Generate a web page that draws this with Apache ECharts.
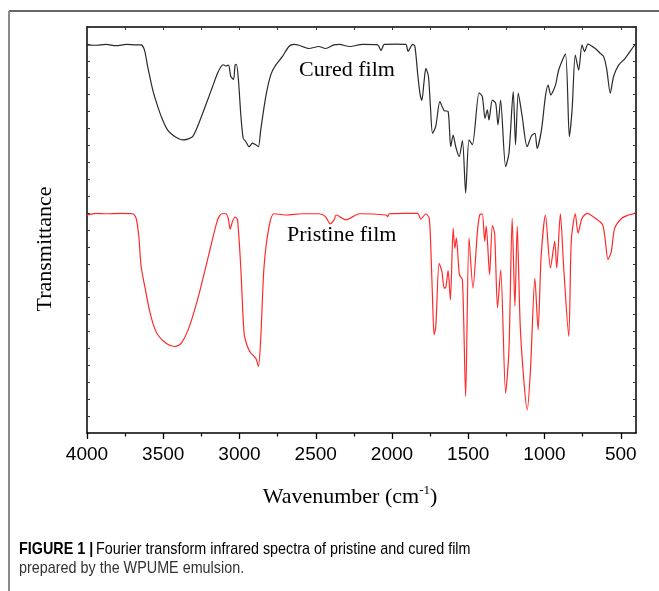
<!DOCTYPE html>
<html>
<head>
<meta charset="utf-8">
<script src="https://cdn.jsdelivr.net/npm/echarts@6/dist/echarts.min.js"></script>
<style>
  html, body { margin: 0; padding: 0; background: #fff; }
  #chart { width: 659px; height: 591px; }
</style>
</head>
<body>
<div id="chart"></div>
<script>
// ---- data (wavenumber in cm-1, transmittance in arbitrary units 0..100) ----
const curedWavenumber = [4000, 3939, 3874, 3809, 3743, 3678, 3645, 3623, 3602, 3569, 3536, 3504, 3471, 3438, 3405, 3373, 3340, 3307, 3275, 3242, 3209, 3177, 3144, 3122, 3107, 3090, 3072, 3057, 3039, 3029, 3020, 3007, 2992, 2976, 2959, 2937, 2915, 2893, 2876, 2861, 2828, 2795, 2763, 2719, 2676, 2643, 2610, 2545, 2480, 2436, 2381, 2344, 2279, 2192, 2094, 2072, 2050, 1974, 1909, 1895, 1865, 1850, 1832, 1817, 1804, 1791, 1778, 1761, 1748, 1734, 1713, 1686, 1658, 1632, 1615, 1599, 1582, 1560, 1538, 1517, 1495, 1473, 1429, 1408, 1390, 1375, 1364, 1342, 1320, 1305, 1288, 1255, 1233, 1205, 1190, 1172, 1146, 1114, 1085, 1063, 1048, 1020, 994, 976, 959, 928, 907, 863, 837, 819, 798, 776, 754, 737, 715, 667, 634, 612, 591, 569, 547, 514, 471, 416, 402];
const curedT = [95.6, 95.5, 95.7, 95.4, 95.7, 95.6, 95.6, 94.3, 90.2, 84.5, 80.4, 77.1, 74.6, 73.4, 72.6, 72.2, 72.4, 73.0, 75.5, 78.7, 82.0, 85.3, 88.6, 90.2, 90.7, 90.4, 90.6, 87.8, 87.1, 90.6, 90.8, 87.0, 78.7, 72.6, 71.8, 70.5, 71.4, 71.0, 70.5, 74.6, 82.8, 88.2, 90.6, 92.7, 95.2, 95.7, 95.5, 94.7, 95.2, 94.7, 95.6, 95.7, 95.2, 95.7, 95.6, 94.2, 95.7, 95.8, 95.7, 94.0, 95.7, 95.3, 88.6, 83.7, 81.9, 86.1, 89.8, 87.8, 80.4, 73.8, 75.5, 81.6, 79.4, 79.2, 70.5, 73.4, 70.5, 68.1, 72.0, 59.1, 72.2, 71.0, 83.8, 82.9, 77.5, 79.6, 77.1, 82.0, 81.2, 75.9, 82.0, 65.6, 68.9, 84.1, 71.0, 83.7, 77.9, 70.5, 73.2, 73.8, 70.1, 74.6, 82.9, 85.7, 83.3, 85.7, 89.4, 93.4, 73.0, 79.6, 93.1, 89.4, 95.6, 93.9, 95.8, 94.7, 93.5, 92.7, 89.4, 83.7, 87.8, 90.6, 92.3, 95.2, 95.8];

const pristineWavenumber = [4000, 3939, 3874, 3787, 3700, 3678, 3660, 3645, 3617, 3591, 3565, 3536, 3482, 3427, 3384, 3329, 3264, 3199, 3144, 3116, 3090, 3074, 3061, 3046, 3029, 3013, 2992, 2970, 2948, 2926, 2893, 2876, 2861, 2839, 2806, 2774, 2697, 2588, 2480, 2436, 2405, 2380, 2366, 2344, 2301, 2214, 2039, 2029, 2018, 1909, 1832, 1811, 1778, 1756, 1745, 1734, 1724, 1713, 1691, 1673, 1658, 1647, 1632, 1617, 1599, 1588, 1578, 1558, 1538, 1517, 1495, 1469, 1440, 1425, 1408, 1392, 1382, 1360, 1342, 1327, 1308, 1287, 1255, 1233, 1212, 1194, 1179, 1157, 1113, 1092, 1063, 1042, 1022, 994, 961, 933, 920, 896, 874, 841, 824, 798, 780, 754, 721, 667, 619, 602, 584, 562, 540, 493, 449, 416, 402];
const pristineT = [53.7, 54.1, 54.0, 54.1, 54.0, 52.9, 48.4, 41.0, 35.3, 30.3, 26.7, 24.2, 22.1, 21.3, 22.0, 26.2, 34.4, 44.3, 52.5, 54.0, 54.0, 52.9, 50.2, 52.1, 53.2, 52.5, 41.0, 24.6, 21.3, 19.7, 18.4, 16.4, 23.0, 41.0, 50.9, 54.0, 53.7, 54.0, 54.0, 53.3, 51.5, 52.5, 53.7, 53.3, 52.5, 54.0, 53.7, 53.3, 54.0, 54.1, 54.1, 52.7, 54.0, 52.9, 45.1, 32.8, 24.2, 26.2, 41.8, 39.8, 35.7, 35.9, 40.0, 32.8, 50.4, 45.5, 48.0, 39.0, 37.7, 9.0, 48.0, 35.7, 49.6, 53.7, 54.0, 47.2, 51.0, 39.0, 51.1, 49.2, 30.8, 40.2, 9.8, 20.5, 52.9, 31.2, 50.9, 24.6, 5.7, 15.6, 38.1, 25.4, 43.5, 53.7, 40.6, 47.2, 40.6, 54.0, 40.6, 23.8, 47.6, 54.0, 49.2, 52.9, 54.1, 52.9, 51.3, 47.6, 42.7, 44.7, 50.4, 52.9, 53.7, 54.0, 54.3];

const majorTicks = [4000, 3500, 3000, 2500, 2000, 1500, 1000, 500];
const minorTicks = [3750, 3250, 2750, 2250, 1750, 1250, 750];
const topTicks = [3750, 3500, 3250, 3000, 2750, 2500, 2250, 2000, 1750, 1500, 1250, 1000, 750, 500];

const seriesNames = ['Cured film', 'Pristine film'];
const xAxisTitle = 'Wavenumber (cm';
const yAxisTitle = 'Transmittance';
const captionBold = 'FIGURE 1 |';
const captionLine1 = 'Fourier transform infrared spectra of pristine and cured film';
const captionLine2 = 'prepared by the WPUME emulsion.';

// ---- chart ----
const zip = (xs, ys) => xs.map((x, i) => [x, ys[i]]);
const chart = echarts.init(document.getElementById('chart'), null, { renderer: 'canvas' });

const serif = '"Liberation Serif", "Times New Roman", serif';
const sans = '"Liberation Sans", Arial, sans-serif';

const grid = { left: 87, top: 27, width: 549, height: 406 };

const xBase = { type: 'value', min: 400, max: 4000, inverse: true, gridIndex: 0, splitLine: { show: false } };

chart.setOption({
  animation: false,
  backgroundColor: '#fff',
  grid: grid,
  xAxis: [
    Object.assign({}, xBase, {
      position: 'bottom',
      axisLine: { show: true, onZero: false, lineStyle: { color: '#000', width: 1.5 } },
      axisTick: { show: true, inside: false, length: 6, customValues: majorTicks, lineStyle: { color: '#000', width: 1.3 } },
      axisLabel: { show: true, customValues: majorTicks, margin: 12, fontFamily: sans, fontSize: 19, color: '#000',
                   formatter: (v) => String(v) }
    }),
    Object.assign({}, xBase, {
      position: 'bottom',
      axisLine: { show: false, onZero: false },
      axisTick: { show: true, inside: false, length: 3.5, customValues: minorTicks, lineStyle: { color: '#000', width: 1.2 } },
      axisLabel: { show: false }
    }),
    Object.assign({}, xBase, {
      position: 'top',
      axisLine: { show: true, onZero: false, lineStyle: { color: '#000', width: 1.5 } },
      axisTick: { show: true, inside: true, length: 3, customValues: topTicks, lineStyle: { color: '#333', width: 1 } },
      axisLabel: { show: false }
    })
  ],
  yAxis: [
    {
      type: 'value', min: 0, max: 100, interval: 100 / 24, position: 'left',
      splitLine: { show: false },
      axisLine: { show: true, onZero: false, lineStyle: { color: '#000', width: 1.5 } },
      axisTick: { show: true, inside: true, length: 3, lineStyle: { color: '#333', width: 1 } },
      axisLabel: { show: false }
    },
    {
      type: 'value', min: 0, max: 100, interval: 100 / 24, position: 'right',
      splitLine: { show: false },
      axisLine: { show: true, onZero: false, lineStyle: { color: '#000', width: 1.5 } },
      axisTick: { show: true, inside: true, length: 3, lineStyle: { color: '#333', width: 1 } },
      axisLabel: { show: false }
    }
  ],
  series: [
    {
      name: seriesNames[0], type: 'line', xAxisIndex: 0, yAxisIndex: 0,
      data: zip(curedWavenumber, curedT),
      showSymbol: false, smooth: 0.25, clip: true,
      lineStyle: { color: '#2a2a2a', width: 1.2 }
    },
    {
      name: seriesNames[1], type: 'line', xAxisIndex: 0, yAxisIndex: 0,
      data: zip(pristineWavenumber, pristineT),
      showSymbol: false, smooth: 0.25, clip: true,
      lineStyle: { color: '#ff2a2a', width: 1.2 }
    }
  ],
  graphic: [
    { type: 'line', shape: { x1: 9, y1: 11, x2: 659, y2: 11 }, style: { stroke: '#333', lineWidth: 1.3 } },
    { type: 'line', shape: { x1: 9, y1: 11, x2: 9, y2: 591 }, style: { stroke: '#8a8a8a', lineWidth: 2 } },
    { type: 'text', style: { x: 299, y: 70, text: seriesNames[0], font: '22px ' + serif, fill: '#000', textVerticalAlign: 'middle' } },
    { type: 'text', style: { x: 287, y: 235, text: seriesNames[1], font: '22px ' + serif, fill: '#000', textVerticalAlign: 'middle' } },
    { type: 'text', x: 45, y: 249, rotation: Math.PI / 2,
      style: { x: 0, y: 0, text: yAxisTitle, font: '22px ' + serif, fill: '#000', textAlign: 'center', textVerticalAlign: 'middle' } },
    { type: 'text', style: {
        x: 350, y: 496, textAlign: 'center', textVerticalAlign: 'middle',
        text: '{a|' + xAxisTitle + '}{s|-1}{a|)}',
        rich: {
          a: { fontFamily: serif, fontSize: 22, color: '#000', lineHeight: 24, verticalAlign: 'bottom' },
          s: { fontFamily: serif, fontSize: 13, color: '#000', lineHeight: 24, verticalAlign: 'top' }
        }
    } },
    { type: 'text', x: 19, y: 549, scaleX: 0.845, scaleY: 1,
      style: {
        x: 0, y: 0, textVerticalAlign: 'middle',
        text: '{b|' + captionBold + '} {r|' + captionLine1 + '}',
        rich: {
          b: { fontFamily: sans, fontSize: 17, fontWeight: 'bold', color: '#222' },
          r: { fontFamily: sans, fontSize: 17, color: '#333' }
        }
    } },
    { type: 'text', x: 19, y: 568, scaleX: 0.845, scaleY: 1,
      style: {
        x: 0, y: 0, textVerticalAlign: 'middle',
        text: captionLine2, font: '17px ' + sans, fill: '#333'
    } }
  ]
});
</script>
</body>
</html>
